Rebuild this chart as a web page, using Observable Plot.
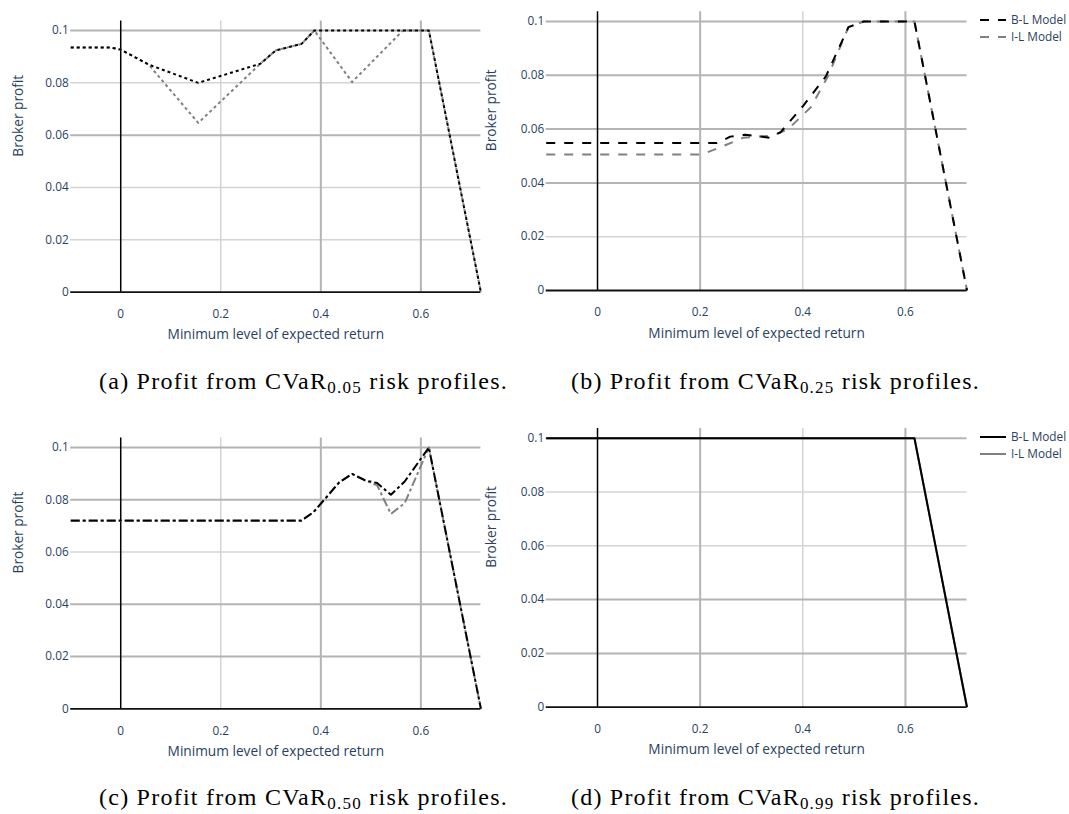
<!DOCTYPE html>
<html><head><meta charset="utf-8">
<script src="https://cdn.jsdelivr.net/npm/d3@7"></script>
<script src="https://cdn.jsdelivr.net/npm/@observablehq/plot@0.6"></script>
<style>
html,body{margin:0;padding:0;background:#fff;}
#root{position:relative;width:1069px;height:814px;overflow:hidden;background:#fff;}
#root svg{position:absolute;left:0;top:0;}
</style></head><body><div id="root"></div>
<script>
// ---- tick values and labels ----
const xTicks = [0, 0.2, 0.4, 0.6];
const yTicks = [0, 0.02, 0.04, 0.06, 0.08, 0.1];
const seriesNames = ["B-L Model", "I-L Model"];
const xTitle = "Minimum level of expected return";
const yTitle = "Broker profit";
const captionLetters = ["a", "b", "c", "d"];
const captionLevels = ["0.05", "0.25", "0.50", "0.99"];

// ---- (a) CVaR 0.05 ----
const aBLx = [-0.1, -0.021, 0, 0.0557, 0.155, 0.279, 0.31, 0.3615, 0.387, 0.616, 0.72];
const aBLy = [0.0935, 0.0935, 0.0927, 0.087, 0.080, 0.0873, 0.0924, 0.0949, 0.1, 0.1, 0];
const aILx = [-0.1, -0.021, 0, 0.0557, 0.155, 0.279, 0.31, 0.3615, 0.387, 0.4625, 0.564, 0.616, 0.72];
const aILy = [0.0935, 0.0935, 0.0927, 0.087, 0.0647, 0.0873, 0.0924, 0.0949, 0.1, 0.0803, 0.1, 0.1, 0];

// ---- (b) CVaR 0.25 ----
const bBLx = [-0.1, 0.233, 0.2586, 0.288, 0.3355, 0.357, 0.4015, 0.445, 0.489, 0.519, 0.6176, 0.72];
const bBLy = [0.0548, 0.0548, 0.0572, 0.0579, 0.0568, 0.0589, 0.0688, 0.0796, 0.0979, 0.1, 0.1, 0];
const bILx = [-0.1, 0.2037, 0.24, 0.284, 0.343, 0.372, 0.416, 0.449, 0.489, 0.519, 0.6176, 0.72];
const bILy = [0.0506, 0.0506, 0.0533, 0.0568, 0.0576, 0.0601, 0.0682, 0.0796, 0.0979, 0.1, 0.1, 0];

// ---- (c) CVaR 0.50 ----
const cBLx = [-0.1, 0.3615, 0.3856, 0.437, 0.4625, 0.4887, 0.5127, 0.540, 0.5677, 0.616, 0.72];
const cBLy = [0.0721, 0.0721, 0.0753, 0.0867, 0.0899, 0.0874, 0.0864, 0.0819, 0.087, 0.1, 0];
const cILx = [-0.1, 0.3615, 0.3856, 0.437, 0.4625, 0.4887, 0.5127, 0.540, 0.5677, 0.616, 0.72];
const cILy = [0.0719, 0.0719, 0.0753, 0.0867, 0.0899, 0.0874, 0.0855, 0.0746, 0.0787, 0.1, 0];

// ---- (d) CVaR 0.99 ----
const dBLx = [-0.1, 0.6176, 0.72];
const dBLy = [0.1, 0.1, 0];
const dILx = [-0.1, 0.6176, 0.72];
const dILy = [0.1, 0.1, 0];

const W = 1069, H = 814;
const TXT = "#2a3f5f";
const FONT = "'Open Sans', sans-serif";
const root = document.getElementById("root");

// layout per panel (pixel frame, dash style, which grid lines render darker)
const panels = [
  {bl: [aBLx, aBLy], il: [aILx, aILy], dash: "3,3", L: 70.2, R: 480.4, T: 20.6, B: 291.7, ydx: -52, legend: null,
   darkX: [0.4, 0.6], darkY: [0.1, 0.06]},
  {bl: [bBLx, bBLy], il: [bILx, bILy], dash: "9,9", L: 545.7, R: 966.5, T: 11.3, B: 290, ydx: -54.5, legend: 20,
   darkX: [0.2, 0.6], darkY: [0.1, 0.08, 0.06, 0.04]},
  {bl: [cBLx, cBLy], il: [cILx, cILy], dash: "9,3,3,3", L: 70.2, R: 480.4, T: 437.6, B: 708.3, ydx: -52, legend: null,
   darkX: [0.4, 0.6], darkY: [0.1, 0.08, 0.04, 0.02]},
  {bl: [dBLx, dBLy], il: [dILx, dILy], dash: null, L: 545.7, R: 966.5, T: 428, B: 706.7, ydx: -54.5, legend: 437,
   darkX: [0.2, 0.6], darkY: [0.1, 0.04, 0.02]}
];

const rows = (xs, ys) => xs.map((x, i) => ({x, y: ys[i]}));
const fmt = d3.format("~g");
const DARK = {stroke: "#b4b4b4", strokeOpacity: 1, strokeWidth: 2};
const LIGHT = {stroke: "#d4d4d4", strokeOpacity: 1, strokeWidth: 1.5};

for (const p of panels) {
  const lineOpts = (color) => ({x: "x", y: "y", stroke: color, strokeWidth: 2,
    strokeDasharray: p.dash || undefined, strokeLinejoin: "round", strokeLinecap: "butt"});
  const gx = xTicks.filter(d => d !== 0), gy = yTicks.filter(d => d !== 0);
  const chart = Plot.plot({
    width: W, height: H,
    marginLeft: p.L, marginRight: W - p.R, marginTop: p.T, marginBottom: H - p.B,
    x: {domain: [-0.1, 0.72]},
    y: {domain: [0, 0.1036]},
    style: {background: "transparent", overflow: "visible", fontFamily: FONT, fontSize: "11.8px", color: TXT},
    marks: [
      Plot.gridX(gx.filter(d => !p.darkX.includes(d)), LIGHT),
      Plot.gridY(gy.filter(d => !p.darkY.includes(d)), LIGHT),
      Plot.gridX(gx.filter(d => p.darkX.includes(d)), DARK),
      Plot.gridY(gy.filter(d => p.darkY.includes(d)), DARK),
      Plot.ruleX([0], {stroke: "#000", strokeWidth: 1.5}),
      Plot.ruleY([0], {stroke: "#111", strokeWidth: 1.8}),
      Plot.axisX(xTicks, {tickSize: 0, tickPadding: 17.5, tickFormat: fmt, label: null}),
      Plot.axisY(yTicks, {tickSize: 0, tickPadding: 2, tickFormat: fmt, label: null}),
      Plot.line(rows(p.il[0], p.il[1]), lineOpts("#808080")),
      Plot.line(rows(p.bl[0], p.bl[1]), lineOpts("#000000")),
      Plot.text([xTitle], {frameAnchor: "bottom", dy: 47, fontSize: 13.7, fill: TXT}),
      Plot.text([yTitle], {frameAnchor: "left", rotate: -90, dx: p.ydx, fontSize: 13.7, fill: TXT})
    ]
  });
  root.appendChild(chart);
}

// ---- overlay: legends and captions ----
const ov = d3.select(root).append("svg").attr("width", W).attr("height", H)
  .style("overflow", "visible");

panels.forEach(p => {
  if (p.legend == null) return;
  [0, 1].forEach(i => {
    const y = p.legend + i * 17;
    ov.append("line").attr("x1", 980).attr("x2", 1006).attr("y1", y).attr("y2", y)
      .attr("stroke", i === 0 ? "#000" : "#808080").attr("stroke-width", 2)
      .attr("stroke-dasharray", p.dash ? "9,9" : null);
    ov.append("text").attr("x", 1011).attr("y", y).attr("dy", "0.35em")
      .attr("font-family", FONT).attr("font-size", 11.8).attr("fill", TXT)
      .text(seriesNames[i]);
  });
});

const capPos = [[99, 389], [571, 389], [99, 805], [571, 805]];
const capWidth = 409;
captionLetters.forEach((ltr, i) => {
  const t = ov.append("text").attr("x", capPos[i][0]).attr("y", capPos[i][1])
    .attr("font-family", "'Liberation Serif', serif").attr("font-size", 24).attr("fill", "#000");
  t.append("tspan").text(`(${ltr}) Profit from CVaR`);
  t.append("tspan").attr("font-size", 17).attr("dy", 4).text(captionLevels[i]);
  t.append("tspan").attr("dy", -4).text(" risk profiles.");
  const w = t.node().getComputedTextLength();
  const n = t.text().length;
  t.attr("letter-spacing", ((capWidth - w) / n).toFixed(3));
});
</script></body></html>
